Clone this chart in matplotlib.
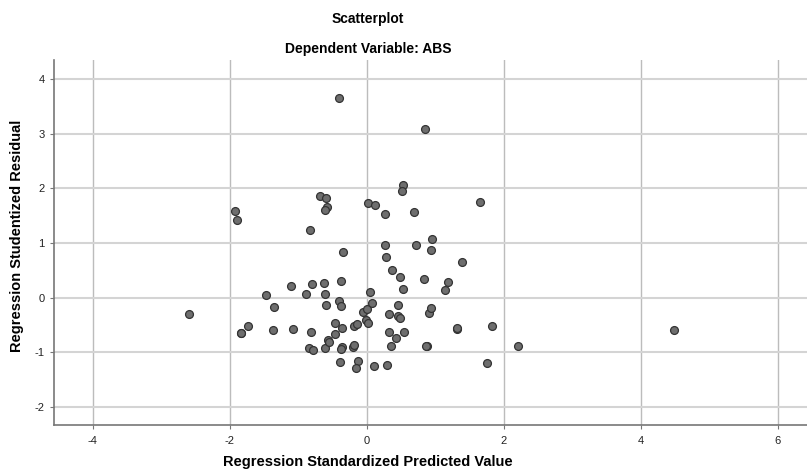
import matplotlib
matplotlib.use("Agg")
import matplotlib.pyplot as plt

plt.rcParams['font.family'] = ['Liberation Sans', 'DejaVu Sans']
plt.rcParams['axes.unicode_minus'] = False

# Regression standardized predicted value (x) and studentized residual (y)
pred = [-2.60, -1.92, -1.90, -1.84, -1.84, -1.74, -1.47, -1.35, -1.37, -1.11,
        -1.07, -0.89, -0.80, -0.82, -0.84, -0.78, -0.83, -0.68, -0.60, -0.58,
        -0.61, -0.62, -0.61, -0.60, -0.61, -0.57, -0.55, -0.46, -0.47, -0.41,
        -0.34, -0.37, -0.40, -0.37, -0.36, -0.36, -0.38, -0.39, -0.18, -0.14,
        -0.20, -0.18, -0.12, -0.16, -0.05, 0.00, -0.01, 0.02, 0.05, 0.07,
        0.10, 0.02, 0.12, 0.26, 0.26, 0.28, 0.30, 0.33, 0.32, 0.35,
        0.37, 0.43, 0.46, 0.45, 0.48, 0.48, 0.53, 0.53, 0.52, 0.55,
        0.69, 0.72, 0.83, 0.85, 0.88, 0.87, 0.91, 0.94, 0.94, 0.95,
        1.14, 1.18, 1.32, 1.32, 1.39, 1.65, 1.76, 1.83, 2.21, 4.49]
resid = [-0.29, 1.59, 1.42, -0.65, -0.64, -0.52, 0.05, -0.18, -0.60, 0.21,
         -0.57, 0.07, 0.25, -0.62, -0.93, -0.96, 1.24, 1.86, 1.82, 1.65,
         1.61, 0.27, 0.07, -0.14, -0.93, -0.77, -0.81, -0.46, -0.66, 3.65,
         0.84, 0.30, -0.07, -0.15, -0.55, -0.90, -0.94, -1.17, -0.51, -0.49,
         -0.91, -0.87, -1.15, -1.28, -0.27, -0.21, -0.40, -0.46, 0.11, -0.10,
         -1.25, 1.73, 1.69, 1.53, 0.96, 0.75, -1.23, -0.29, -0.62, -0.88,
         0.51, -0.74, -0.14, -0.34, -0.38, 0.37, 0.16, 2.07, 1.96, -0.62,
         1.56, 0.97, 0.34, 3.08, -0.88, -0.88, -0.28, -0.19, 0.87, 1.07,
         0.14, 0.29, -0.57, -0.56, 0.65, 1.75, -1.19, -0.51, -0.89, -0.60]

xticks = [-4, -2, 0, 2, 4, 6]
yticks = [-2, -1, 0, 1, 2, 3, 4]

fig = plt.figure(figsize=(8.07, 4.72), dpi=100)
ax = fig.add_axes([0.0675, 0.0996, 0.9325, 0.7734])

ax.scatter(pred, resid, s=32, facecolor='#6e6e6e', edgecolor='#333333',
           linewidths=0.9, zorder=3)

ax.set_xlim(-4.56, 6.43)
ax.set_ylim(-2.33, 4.35)
ax.set_xticks(xticks)
ax.set_yticks(yticks)
ax.xaxis.grid(True, color='#bcbcbc', linewidth=1.0)
ax.yaxis.grid(True, color='#d4d4d4', linewidth=1.5)
ax.set_axisbelow(True)

for side in ['top', 'right']:
    ax.spines[side].set_visible(False)
for side in ['left', 'bottom']:
    ax.spines[side].set_color('#777777')
    ax.spines[side].set_linewidth(1.2)

ax.tick_params(axis='both', length=3, width=0.8, color='#777777',
               labelsize=8, labelcolor='#222222')
ax.tick_params(axis='x', pad=5)
ax.tick_params(axis='y', pad=4)

fig.text(0.456, 0.022, 'Regression Standardized Predicted Value', ha='center',
         va='center', fontsize=10.5, fontweight='bold')
fig.text(0.021, 0.5, 'Regression Studentized Residual', ha='center',
         va='center', rotation=90, fontsize=10.5, fontweight='bold')

fig.text(0.456, 0.96, 'Scatterplot', ha='center', va='center',
         fontsize=10, fontweight='bold')
fig.text(0.456, 0.896, 'Dependent Variable: ABS', ha='center', va='center',
         fontsize=10, fontweight='bold')

fig.savefig('out.png', dpi=100)
